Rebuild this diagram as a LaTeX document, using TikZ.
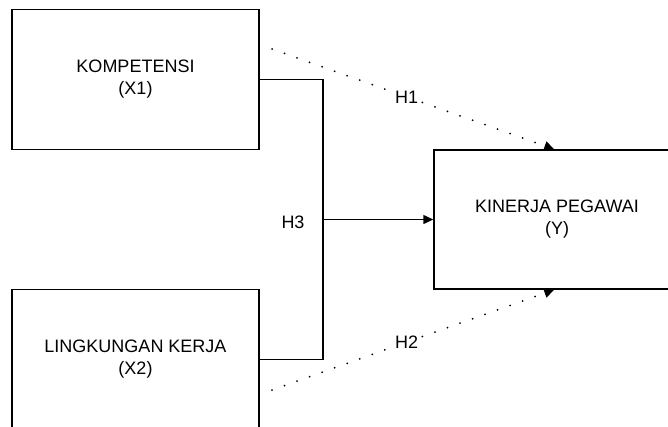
\documentclass[tikz,border=0pt]{standalone}
\usepackage{fontspec}
\setmainfont{Liberation Sans}
\usetikzlibrary{arrows.meta}
\begin{document}
\begin{tikzpicture}[x=1pt,y=-1pt,
  boxnode/.style={draw=black, line width=1.5pt, fill=white, minimum width=247pt, minimum height=140pt, inner sep=0pt, align=center, font=\fontsize{18}{22}\selectfont},
  link/.style={draw=black, line width=1.5pt},
  dotline/.style={draw=black, line width=2pt, line cap=round, dash pattern=on 0pt off 13.3pt},
  lbl/.style={font=\fontsize{18}{20}\selectfont, inner sep=1pt, fill=white}
]
\useasboundingbox (0,0) rectangle (668,426);
\coordinate (a1) at (272,49);
\coordinate (a2) at (272,390);
\node[boxnode] (X1) at (135.5,79.5) {KOMPETENSI\\(X1)};
\node[boxnode] (X2) at (135.5,359.5) {LINGKUNGAN KERJA\\(X2)};
\node[boxnode, minimum height=139pt, minimum width=246pt] (Y) at (557,219.5) {KINERJA PEGAWAI\\(Y)};
\coordinate (j1) at (323,79.5);
\coordinate (j2) at (323,359.5);
\coordinate (jm) at (323,219.5);
\coordinate (t1) at ([xshift=121pt]Y.north west);
\coordinate (t2) at ([xshift=121pt]Y.south west);
\draw[link] (X1.east) -- (j1) -- (j2) -- (X2.east);
\draw[link, -{Triangle[length=10pt,width=9pt]}] (jm) -- (Y.west);
\draw[dotline, -{Triangle[length=10pt,width=9pt]}] (a1) -- (t1) node[pos=0.477, lbl] (h1) {H1};
\draw[dotline, -{Triangle[length=10pt,width=9pt]}] (a2) -- (t2) node[pos=0.477, lbl] (h2) {H2};
\node[lbl, fill=none] (h3) at (293,222) {H3};
\end{tikzpicture}
\end{document}
